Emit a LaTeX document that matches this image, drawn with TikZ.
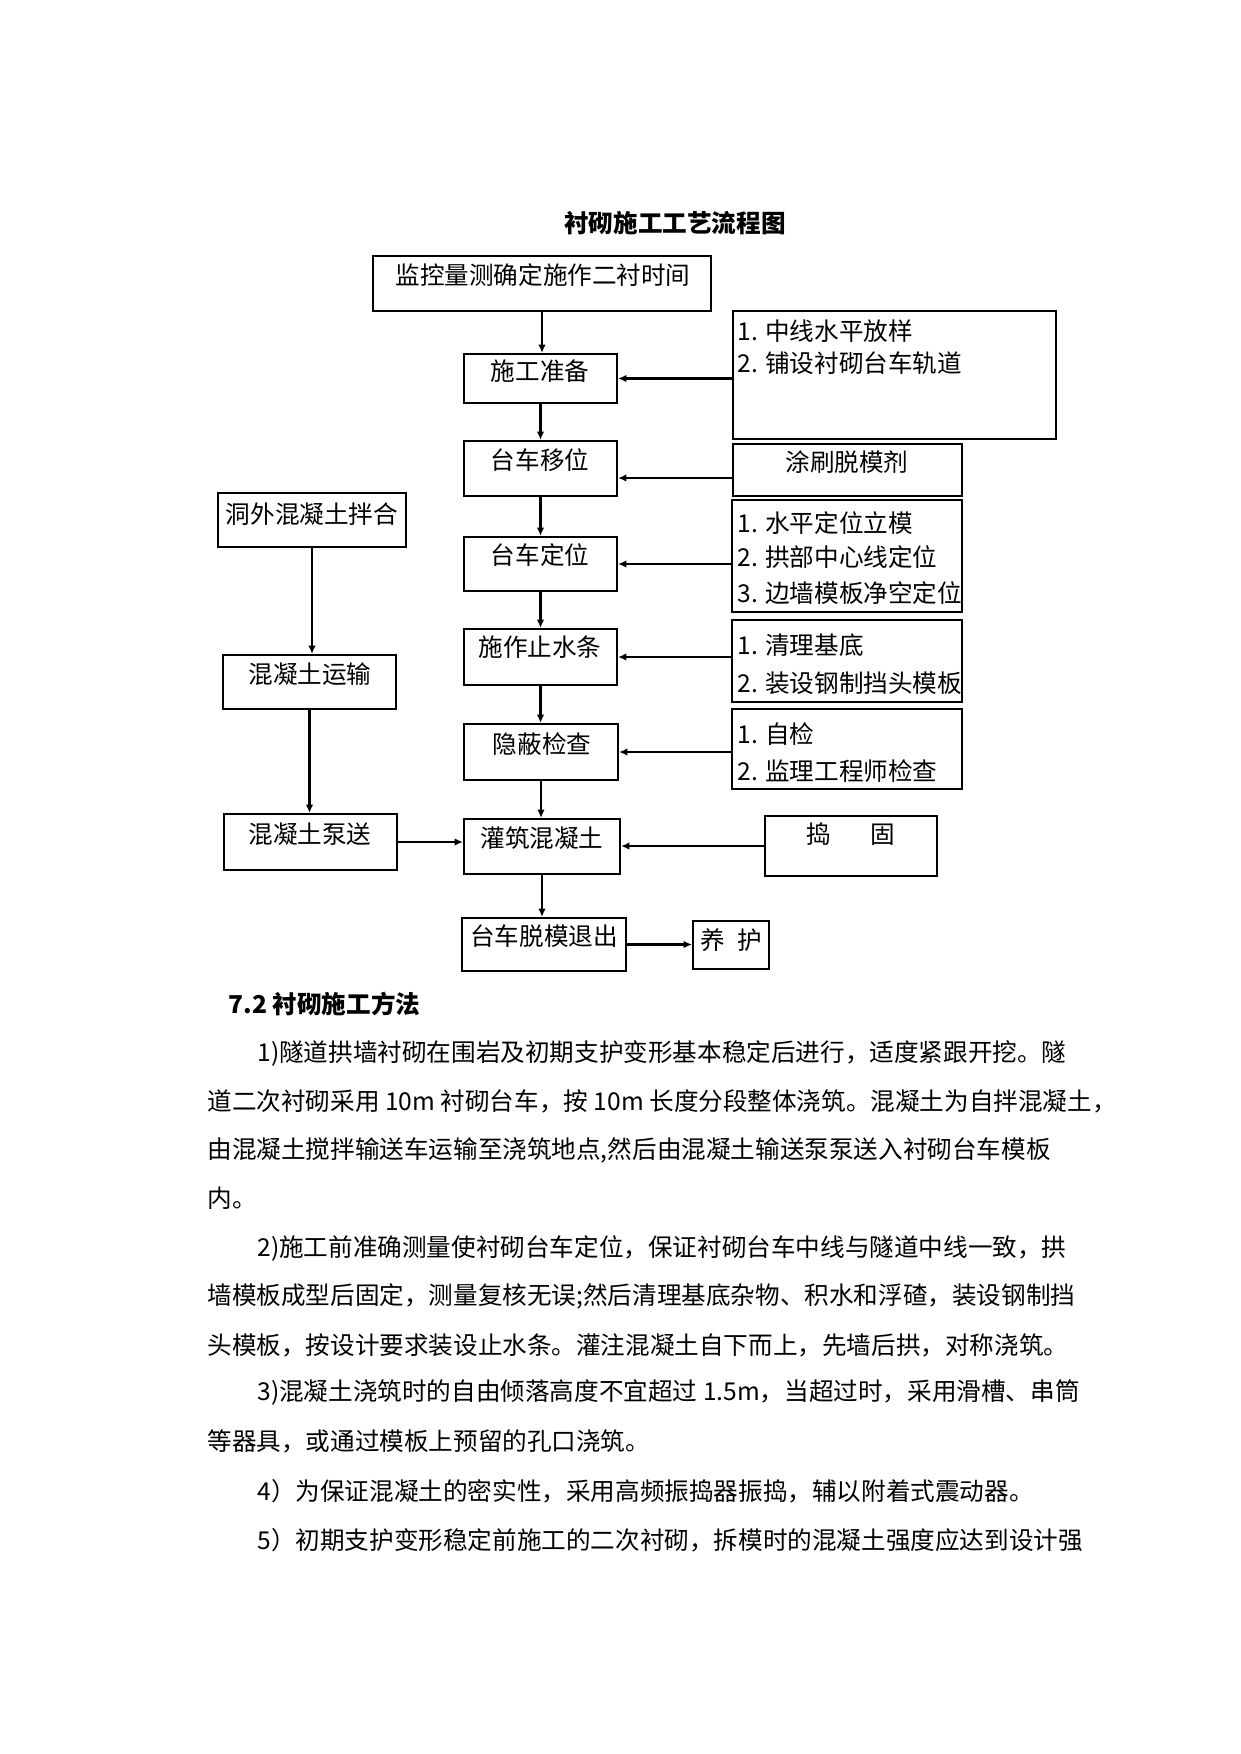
\documentclass[tikz,border=0pt]{standalone}
\usepackage{fontspec}
\setmainfont{Noto Sans CJK SC}
\usetikzlibrary{arrows.meta,fit,calc}
\tikzset{
  box/.style={draw,line width=1pt,inner sep=0pt},
  lbl/.style={font=\fontsize{11.8}{14}\selectfont,inner sep=0pt},
  item/.style={lbl,anchor=west},
  head/.style={inner sep=0pt,font=\fontsize{11.8}{14}\selectfont\bfseries},
  arr/.style={line width=1.3pt,-{Latex[length=4pt,width=3.6pt]}},
}
\begin{document}
\begin{tikzpicture}[x=0.4797pt,y=-0.4797pt]
\useasboundingbox (0,0) rectangle (1241,1754);
\fill[white] (0,0) rectangle (1241,1754);
\node[head] (title) at (675,223) {衬砌施工工艺流程图};
% main column
\node[box,fit={(373,256) (711,311)}] (top) {};
\node[lbl] (top-t) at (543,275) {监控量测确定施作二衬时间};
\node[box,fit={(464,354) (617,403)}] (prep) {};
\node[lbl] (prep-t) at (540,371) {施工准备};
\node[box,fit={(464,441) (617,496)}] (move) {};
\node[lbl] (move-t) at (540,460) {台车移位};
\node[box,fit={(464,537) (617,591)}] (pos) {};
\node[lbl] (pos-t) at (540,555) {台车定位};
\node[box,fit={(464,629) (617,685)}] (seal) {};
\node[lbl] (seal-t) at (540,647) {施作止水条};
\node[box,fit={(464,724) (618,780)}] (check) {};
\node[lbl] (check-t) at (542,744) {隐蔽检查};
\node[box,fit={(464,819) (620,874)}] (pour) {};
\node[lbl] (pour-t) at (542,838) {灌筑混凝土};
\node[box,fit={(462,918) (626,971)}] (strip) {};
\node[lbl] (strip-t) at (544,936) {台车脱模退出};
\node[box,fit={(693,921) (769,969)}] (cure) {};
\node[lbl] (cure-t) at (731,940) {养\hspace{0.5em}护};
% left column
\node[box,fit={(218,493) (406,547)}] (mix) {};
\node[lbl] (mix-t) at (312,514) {洞外混凝土拌合};
\node[box,fit={(223,655) (396,709)}] (trans) {};
\node[lbl] (trans-t) at (310,674) {混凝土运输};
\node[box,fit={(224,814) (397,870)}] (pump) {};
\node[lbl] (pump-t) at (310,834) {混凝土泵送};
% right column
\node[box,fit={(733,311) (1056,439)}] (track) {};
\node[item] (track-a) at (737,331) {1. 中线水平放样};
\node[item] (track-b) at (737,363) {2. 铺设衬砌台车轨道};
\node[box,fit={(733,444) (962,496)}] (paint) {};
\node[lbl] (paint-t) at (847,462) {涂刷脱模剂};
\node[box,fit={(732,500) (962,612)}] (level) {};
\node[item] (level-a) at (737,523) {1. 水平定位立模};
\node[item] (level-b) at (737,557) {2. 拱部中心线定位};
\node[item] (level-c) at (737,593) {3. 边墙模板净空定位};
\node[box,fit={(732,620) (962,702)}] (clean) {};
\node[item] (clean-a) at (737,645) {1. 清理基底};
\node[item] (clean-b) at (737,683) {2. 装设钢制挡头模板};
\node[box,fit={(732,709) (962,789)}] (self) {};
\node[item] (self-a) at (737,734) {1. 自检};
\node[item] (self-b) at (737,771) {2. 监理工程师检查};
\node[box,fit={(765,816) (937,876)}] (tamp) {};
\node[lbl] (tamp-t) at (851,834) {捣\hspace{1.6em}固};
% arrows down
\draw[arr] (top.south) -- (top.south |- prep.north);
\draw[arr] (prep.south) -- (prep.south |- move.north);
\draw[arr] (move.south) -- (move.south |- pos.north);
\draw[arr] (pos.south) -- (pos.south |- seal.north);
\draw[arr] (seal.south) -- (seal.south |- check.north);
\draw[arr] (check.south) -- (check.south |- pour.north);
\draw[arr] (pour.south) -- (pour.south |- strip.north);
\draw[arr] (mix.south) -- (mix.south |- trans.north);
\draw[arr] (trans.south) -- (trans.south |- pump.north);
% arrows across
\draw[arr] (track.west |- prep.east) -- (prep.east);
\coordinate (pa) at ($(paint.west)+(0,8)$);
\draw[arr] (pa) -- (pa -| move.east);
\draw[arr] (level.west |- pos.east) -- (pos.east);
\draw[arr] (clean.west |- seal.east) -- (seal.east);
\draw[arr] (self.west |- check.east) -- (check.east);
\draw[arr] (tamp.west) -- (tamp.west -| pour.east);
\draw[arr] (pump.east) -- (pump.east -| pour.west);
\draw[arr] (strip.east) -- (strip.east -| cure.west);
% text below
\node[head,anchor=west] (sec) at (228,1004) {7.2 衬砌施工方法};
\node[item] (p1) at (257,1053) {1)隧道拱墙衬砌在围岩及初期支护变形基本稳定后进行，适度紧跟开挖。隧};
\node[item] (p2) at (207,1101) {道二次衬砌采用 10m 衬砌台车，按 10m 长度分段整体浇筑。混凝土为自拌混凝土，};
\node[item] (p3) at (207,1150) {由混凝土搅拌输送车运输至浇筑地点,然后由混凝土输送泵泵送入衬砌台车模板};
\node[item] (p4) at (207,1198) {内。};
\node[item] (p5) at (257,1248) {2)施工前准确测量使衬砌台车定位，保证衬砌台车中线与隧道中线一致，拱};
\node[item] (p6) at (207,1296) {墙模板成型后固定，测量复核无误;然后清理基底杂物、积水和浮碴，装设钢制挡};
\node[item] (p7) at (207,1345) {头模板，按设计要求装设止水条。灌注混凝土自下而上，先墙后拱，对称浇筑。};
\node[item] (p8) at (257,1393) {3)混凝土浇筑时的自由倾落高度不宜超过 1.5m，当超过时，采用滑槽、串筒};
\node[item] (p9) at (207,1441) {等器具，或通过模板上预留的孔口浇筑。};
\node[item] (p10) at (257,1491) {4）为保证混凝土的密实性，采用高频振捣器振捣，辅以附着式震动器。};
\node[item] (p11) at (257,1540) {5）初期支护变形稳定前施工的二次衬砌，拆模时的混凝土强度应达到设计强};
\end{tikzpicture}
\end{document}
